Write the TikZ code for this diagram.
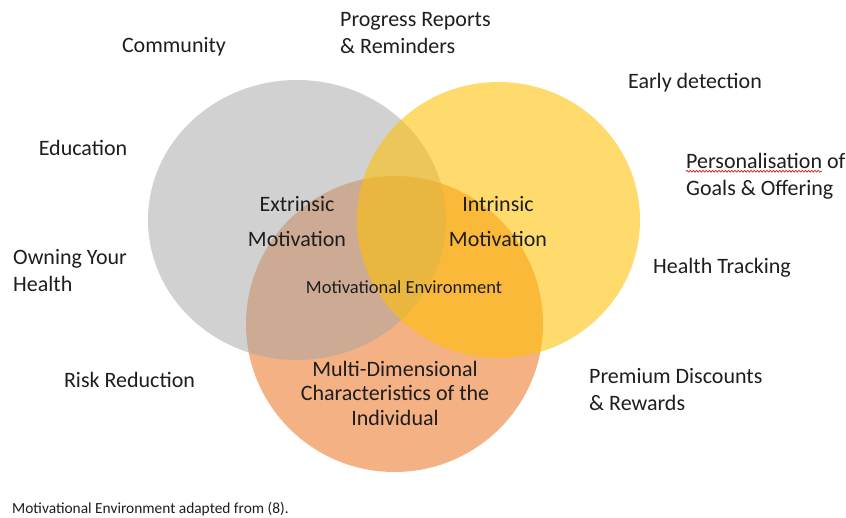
\documentclass[tikz,border=0pt]{standalone}
\usepackage{fontspec}
\setmainfont{Carlito}
\usetikzlibrary{shapes.geometric, positioning, decorations.pathmorphing}
\definecolor{vennGrey}{RGB}{165,165,165}
\definecolor{vennGold}{RGB}{255,192,0}
\definecolor{vennOrange}{RGB}{237,125,49}
\definecolor{ink}{RGB}{30,30,30}
\tikzset{
    venn/.style={ellipse, inner sep=0pt, draw=none},
    factor/.style={inner sep=0pt, align=left, text=ink, font=\fontsize{22}{27}\selectfont},
    zone/.style={inner sep=0pt, align=center, text=ink, font=\fontsize{22}{35}\selectfont},
    core/.style={inner sep=0pt, align=center, text=ink, font=\fontsize{18.5}{22}\selectfont},
    note/.style={inner sep=0pt, align=left, text=ink, font=\fontsize{15.4}{18}\selectfont},
    spellmark/.style={red!85!black, line width=0.6pt, decorate, decoration={snake, amplitude=0.9pt, segment length=3.2pt}}
}

\begin{document}
\begin{tikzpicture}[x=1pt, y=-1pt]
    % Page
    \path[use as bounding box, fill=white] (0,0) rectangle (846,518);

    % Circles (orange under grey, gold on top)
    \node[venn, fill=vennOrange, fill opacity=0.6, minimum width=297pt, minimum height=296pt] (individual) at (394.5,324) {};
    \node[venn, fill=vennGrey, fill opacity=0.5, minimum width=298pt, minimum height=280pt] (extrinsic) at (297,220) {};
    \node[venn, fill=vennGold, fill opacity=0.57, minimum width=283pt, minimum height=276pt] (intrinsic) at (498.5,220) {};

    % Labels inside the circles
    \node[zone] (extrinsic_text) at (297,221.5) {Extrinsic\\Motivation};
    \node[zone] (intrinsic_text) at (498,221.5) {Intrinsic\\Motivation};
    \node[core] (environment) at (404,287) {Motivational Environment};
    \node[zone, font=\fontsize{22}{24.5}\selectfont] (individual_text) at (395,393) {Multi-Dimensional\\Characteristics of the\\Individual};

    % Factors around the diagram
    \node[factor] (community) at (174,47) {Community};
    \node[factor, anchor=west] (progress) at (340,33.5) {Progress Reports\\\& Reminders};
    \node[factor] (early) at (695,83) {Early detection};
    \node[factor] (education) at (83,148) {Education};
    \node[factor, anchor=west] (goals) at (686,176.5) {Personalisation of\\Goals \& Offering};
    \node[factor, anchor=west] (owning) at (13,271) {Owning Your\\Health};
    \node[factor] (tracking) at (722,268) {Health Tracking};
    \node[factor] (risk) at (129.5,380) {Risk Reduction};
    \node[factor, anchor=west] (premium) at (589,390) {Premium Discounts\\\& Rewards};

    % Spell-check underline
    \draw[spellmark] ([yshift=-18pt]goals.north west) -- ++(136,0);

    % Caption
    \node[note, anchor=west] (source) at (12,509) {Motivational Environment adapted from (8).};
\end{tikzpicture}
\end{document}
